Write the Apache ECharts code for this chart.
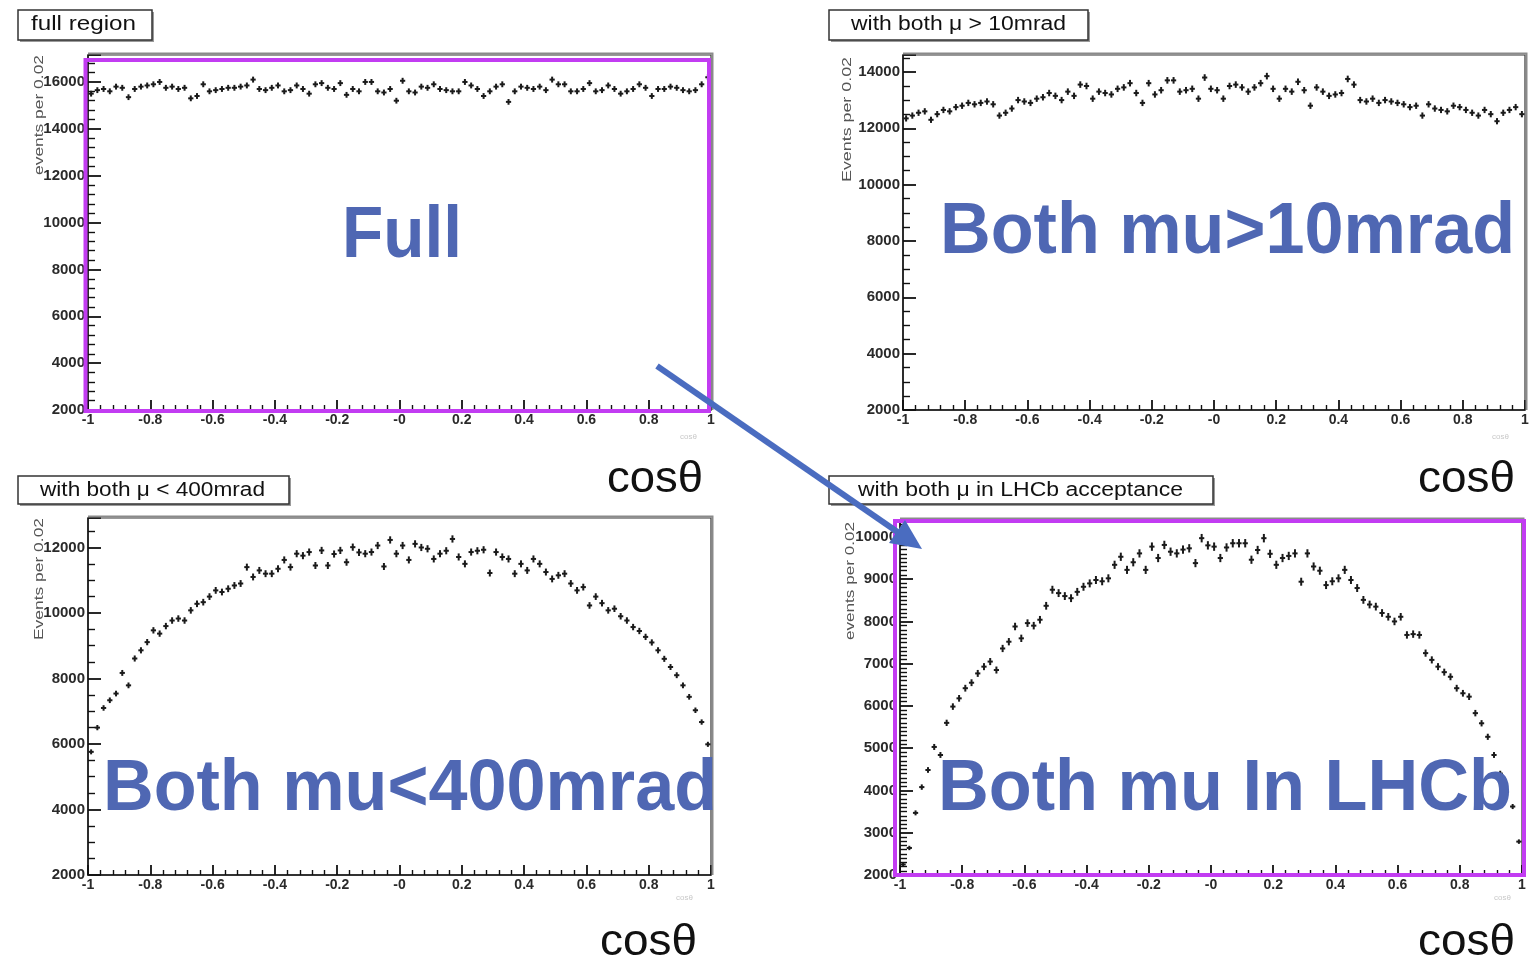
<!DOCTYPE html>
<html><head><meta charset="utf-8">
<script src="https://cdn.jsdelivr.net/npm/echarts@6/dist/echarts.min.js"></script>
<style>html,body{margin:0;padding:0;background:#fff}#c{width:1533px;height:959px}</style>
</head><body><div id="c"></div>
<script>
// ---- data ----
const BIN_LOW = -1, BIN_WIDTH = 0.02, N_BINS = 100;
const xTickLabels = ['-1','-0.8','-0.6','-0.4','-0.2','-0','0.2','0.4','0.6','0.8','1'];
const panelTitles = ['full region','with both \u03bc > 10mrad','with both \u03bc < 400mrad','with both \u03bc in LHCb acceptance'];
const overlayLabels = ['Full','Both mu>10mrad','Both mu<400mrad','Both mu In LHCb'];
const yAxisNames = ['events per 0.02','Events per 0.02','Events per 0.02','events per 0.02'];
const xAxisTitle = 'cos\u03b8';

const fullRegion = [
15500,15650,15700,15600,15800,15750,15350,15700,15800,15850,
15900,16000,15750,15800,15700,15750,15300,15400,15900,15600,
15650,15700,15750,15750,15800,15850,16100,15700,15650,15750,
15850,15600,15650,15850,15700,15500,15900,15950,15750,15700,
15950,15450,15700,15600,16000,16000,15600,15550,15700,15200,
16050,15600,15550,15800,15750,15900,15700,15650,15600,15600,
16000,15850,15700,15400,15600,15800,15900,15150,15600,15800,
15750,15700,15800,15650,16100,15900,15900,15600,15600,15700,
15950,15600,15650,15850,15700,15500,15600,15700,15900,15750,
15400,15700,15700,15800,15750,15650,15600,15650,15900,16200];

const muGt10mrad = [
12350,12450,12550,12600,12300,12500,12650,12600,12750,12800,
12900,12850,12900,12950,12850,12450,12550,12700,13000,12950,
12900,13050,13100,13250,13150,13000,13300,13150,13550,13500,
13050,13300,13250,13200,13400,13450,13600,13250,12900,13600,
13200,13350,13700,13700,13300,13350,13400,13050,13800,13400,
13350,13050,13500,13550,13450,13300,13450,13600,13850,13400,
13050,13400,13300,13650,13350,12800,13450,13300,13150,13200,
13250,13750,13550,13000,12950,13050,12900,13000,12950,12900,
12850,12750,12800,12450,12850,12700,12650,12600,12800,12750,
12650,12550,12450,12650,12500,12250,12550,12650,12750,12500];

const muLt400mrad = [
5760,6500,7100,7335,7540,8170,7790,8610,8860,9110,
9470,9370,9600,9770,9830,9770,10080,10280,10330,10500,
10690,10640,10740,10840,10900,11400,11100,11300,11200,11200,
11350,11620,11400,11810,11750,11860,11450,11910,11450,11800,
11910,11550,12010,11850,11810,11860,12060,11420,12230,11810,
12060,11620,12110,12000,11960,11650,11810,11900,12260,11710,
11500,11860,11900,11930,11220,11860,11710,11650,11200,11500,
11300,11650,11500,11250,11040,11150,11200,10900,10690,10790,
10230,10500,10300,10080,10130,9900,9770,9570,9450,9270,
9100,8860,8600,8350,8100,7790,7440,7030,6670,5990];

const muInLhcb = [
2250,2640,3470,4080,4485,5030,4840,5600,5985,6180,
6420,6550,6770,6930,7050,6850,7360,7520,7880,7600,
7960,7900,8040,8370,8750,8670,8600,8550,8700,8820,
8900,8980,8950,9020,9340,9530,9220,9400,9610,9220,
9770,9500,9810,9650,9610,9700,9730,9380,9970,9800,
9770,9500,9750,9850,9850,9850,9460,9690,9970,9600,
9340,9500,9550,9610,8940,9610,9300,9200,8860,8950,
9020,9220,8980,8790,8510,8400,8350,8200,8110,8000,
8110,7680,7700,7680,7250,7090,6930,6800,6690,6420,
6300,6220,5830,5590,5270,4840,4400,3970,3620,2790];

const panelValues = [fullRegion, muGt10mrad, muLt400mrad, muInLhcb];
const yMax = [17150, 14600, 12900, 10400];
const yInterval = [2000, 2000, 2000, 1000];
const yMinorSplit = [5, 4, 4, 10];

// ---- layout ----
const grids = [
  {left:88, top:55, width:623, height:355},
  {left:903, top:55, width:622, height:355},
  {left:88, top:518, width:623, height:357},
  {left:900, top:520, width:622, height:355}
];
const FONT = '"Liberation Sans", Arial, sans-serif';
const measureCtx = document.createElement('canvas').getContext('2d');
function textWidth(t, size, weight) {
  measureCtx.font = weight + ' ' + size + 'px ' + FONT;
  return measureCtx.measureText(t).width;
}
function fitText(t, x, cy, w, size, weight, fill, z) {
  const s = w / textWidth(t, size, weight);
  return {type:'text', x:x, y:cy, scaleX:s, z:z,
    style:{text:t, fill:fill, fontSize:size, fontWeight:weight, fontFamily:FONT,
      align:'left', verticalAlign:'middle', textAlign:'left', textVerticalAlign:'middle'}};
}
function vertText(t, x, ytop, len, size, fill) {
  const s = len / textWidth(t, size, 'normal');
  return {type:'text', x:x, y:ytop, rotation:Math.PI/2, scaleX:s, z:50,
    style:{text:t, fill:fill, fontSize:size, fontFamily:FONT,
      align:'right', verticalAlign:'middle', textAlign:'right', textVerticalAlign:'middle'}};
}

function renderErr(params, api) {
  const x = api.value(0), y = api.value(1), e = api.value(2);
  const hw = BIN_WIDTH * 0.42;
  const a = api.coord([x - hw, y]), b = api.coord([x + hw, y]);
  const c = api.coord([x, y + e]), d = api.coord([x, y - e]);
  const st = {stroke:'#1a1a1a', lineWidth:2};
  return {type:'group', children:[
    {type:'line', shape:{x1:a[0], y1:a[1], x2:b[0], y2:b[1]}, style:st},
    {type:'line', shape:{x1:c[0], y1:c[1], x2:d[0], y2:d[1]}, style:st}
  ]};
}

const xAxes = [], yAxes = [], series = [];
grids.forEach((g, i) => {
  xAxes.push({type:'value', gridIndex:i, min:-1, max:1, interval:0.2,
    axisLine:{show:true, onZero:false, lineStyle:{color:'#111', width:1.5}},
    axisTick:{show:true, inside:true, length:10, lineStyle:{color:'#111', width:1.8}},
    minorTick:{show:true, splitNumber:5, length:5, lineStyle:{color:'#111', width:1.4}},
    splitLine:{show:false},
    axisLabel:{show:true, showMinLabel:true, showMaxLabel:true, margin:3, fontSize:14, fontWeight:'bold', color:'#2a2a2a', fontFamily:FONT,
      formatter:v => xTickLabels[Math.round((v - BIN_LOW) / 0.2)] || ''}
  });
  const iv = yInterval[i];
  yAxes.push({type:'value', gridIndex:i, min:2000, max:yMax[i], interval:iv,
    axisLine:{show:true, onZero:false, lineStyle:{color:'#111', width:1.5}},
    axisTick:{show:true, inside:true, length:13, lineStyle:{color:'#111', width:1.8}},
    minorTick:{show:true, splitNumber:yMinorSplit[i], length:7, lineStyle:{color:'#111', width:1.4}},
    splitLine:{show:false},
    axisLabel:{show:true, margin:3, fontSize:15, fontWeight:'bold', color:'#2a2a2a', fontFamily:FONT,
      formatter:v => (Math.abs(v % iv) < 1e-6 ? String(v) : '')}
  });
  series.push({type:'custom', xAxisIndex:i, yAxisIndex:i, renderItem:renderErr, z:5,
    encode:{x:0, y:1},
    data:panelValues[i].map((v, k) => [BIN_LOW + BIN_WIDTH * (k + 0.5), v, Math.sqrt(v)])});
});

// ---- decorations ----
const graphics = [];
const titleBoxes = [
  {box:[18,10,134,30], tx:31, tw:105, cy:24},
  {box:[829,10,259,30], tx:851, tw:215, cy:24},
  {box:[18,476,271,28], tx:40, tw:225, cy:490},
  {box:[829,476,384,28], tx:858, tw:325, cy:490}
];
titleBoxes.forEach((b, i) => {
  graphics.push({type:'rect', z:40, shape:{x:b.box[0]+2, y:b.box[1]+2, width:b.box[2], height:b.box[3]}, style:{fill:'#9a9a9a'}});
  graphics.push({type:'rect', z:41, shape:{x:b.box[0], y:b.box[1], width:b.box[2], height:b.box[3]}, style:{fill:'#fff', stroke:'#333', lineWidth:1.5}});
  graphics.push(fitText(panelTitles[i], b.tx, b.cy, b.tw, 20, 'normal', '#111', 42));
});
// frame shadows (top/right grey)
grids.forEach(g => {
  graphics.push({type:'polyline', z:1, shape:{points:[[g.left, g.top-1.5],[g.left+g.width+1.5, g.top-1.5],[g.left+g.width+1.5, g.top+g.height]]}, style:{stroke:'#8a8a8a', lineWidth:2, fill:null}});
});
// big cos theta axis titles
[[607,480,96],[1418,480,97],[600,943,97],[1418,943,97]].forEach(p => {
  graphics.push(fitText(xAxisTitle, p[0], p[1], p[2], 44, 'normal', '#111', 30));
});
// tiny ROOT axis titles
[[680,437],[1492,437],[676,898],[1494,898]].forEach(p => {
  graphics.push({type:'text', x:p[0], y:p[1], z:30, style:{text:xAxisTitle, fill:'#c8c8c8', fontSize:8, fontFamily:FONT, align:'left', verticalAlign:'middle'}});
});
// y axis names
[[40,55,120],[848,57,125],[40,518,122],[851,522,118]].forEach((p, i) => {
  graphics.push(vertText(yAxisNames[i], p[0], p[1], p[2], 12, '#555'));
});
// big blue overlay labels
const BLUE = '#4f67b3';
[[342,237,120],[940,233,575],[103,790,614],[938,790,574]].forEach((p, i) => {
  graphics.push(fitText(overlayLabels[i], p[0], p[1], p[2], 72, 'bold', BLUE, 90));
});
// magenta highlight boxes
const MAGENTA = '#c23cf2';
graphics.push({type:'rect', z:95, shape:{x:85.5, y:60, width:623.5, height:351}, style:{fill:null, stroke:MAGENTA, lineWidth:4}});
graphics.push({type:'rect', z:95, shape:{x:895, y:521, width:629, height:354}, style:{fill:null, stroke:MAGENTA, lineWidth:4}});
// blue arrow
const ARROW = '#4a6cc0';
graphics.push({type:'line', z:99, shape:{x1:657, y1:366, x2:899, y2:533}, style:{stroke:ARROW, lineWidth:6}});
graphics.push({type:'polygon', z:99, shape:{points:[[922,549],[889,543],[905,520]]}, style:{fill:ARROW}});

const chart = echarts.init(document.getElementById('c'), null, {renderer:'canvas'});
chart.setOption({
  animation:false,
  backgroundColor:'#fff',
  grid:grids.map(g => Object.assign({show:true, borderColor:'#333', borderWidth:1.2, backgroundColor:'transparent'}, g)),
  xAxis:xAxes,
  yAxis:yAxes,
  series:series,
  graphic:{elements:graphics}
});
</script>
</body></html>
